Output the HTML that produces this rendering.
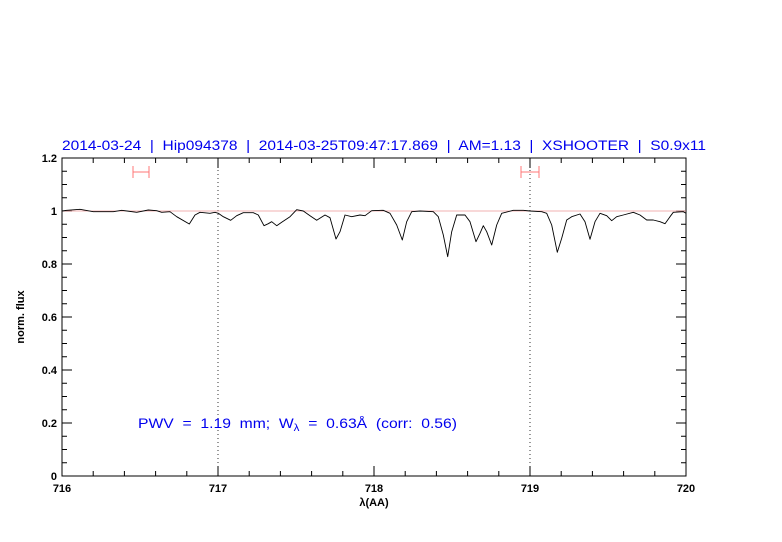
<!DOCTYPE html>
<html><head><meta charset="utf-8"><style>html,body{margin:0;padding:0;background:#fff}svg{display:block}</style></head><body>
<svg width="782" height="542" xmlns="http://www.w3.org/2000/svg" font-family="Liberation Sans, sans-serif">
<rect width="782" height="542" fill="#fff"/>
<text x="62" y="150" fill="#0000ee" font-size="13.5" textLength="644" lengthAdjust="spacingAndGlyphs" xml:space="preserve">2014-03-24  |  Hip094378  |  2014-03-25T09:47:17.869  |  AM=1.13  |  XSHOOTER  |  S0.9x11</text>
<g stroke="#000" stroke-width="1" fill="none">
<rect x="62" y="158" width="624" height="318"/>
<path d="M93.2 476v-5M124.4 476v-5M155.6 476v-5M186.8 476v-5M249.2 476v-5M280.4 476v-5M311.6 476v-5M342.8 476v-5M405.2 476v-5M436.4 476v-5M467.6 476v-5M498.8 476v-5M561.2 476v-5M592.4 476v-5M623.6 476v-5M654.8 476v-5
M218 476v-10M374 476v-10M530 476v-10
M93.2 158v5M124.4 158v5M155.6 158v5M186.8 158v5M249.2 158v5M280.4 158v5M311.6 158v5M342.8 158v5M405.2 158v5M436.4 158v5M467.6 158v5M498.8 158v5M561.2 158v5M592.4 158v5M623.6 158v5M654.8 158v5
M218 158v10M374 158v10M530 158v10"/>
<path d="M62 462.75h5M62 449.5h5M62 436.25h5M62 409.75h5M62 396.5h5M62 383.25h5M62 356.75h5M62 343.5h5M62 330.25h5M62 303.75h5M62 290.5h5M62 277.25h5M62 250.75h5M62 237.5h5M62 224.25h5M62 197.75h5M62 184.5h5M62 171.25h5
M62 423h10M62 370h10M62 317h10M62 264h10M62 211h10
M686 462.75h-5M686 449.5h-5M686 436.25h-5M686 409.75h-5M686 396.5h-5M686 383.25h-5M686 356.75h-5M686 343.5h-5M686 330.25h-5M686 303.75h-5M686 290.5h-5M686 277.25h-5M686 250.75h-5M686 237.5h-5M686 224.25h-5M686 197.75h-5M686 184.5h-5M686 171.25h-5
M686 423h-10M686 370h-10M686 317h-10M686 264h-10M686 211h-10"/>
</g>
<g stroke="#000" stroke-width="0.8" stroke-dasharray="1,3"><path d="M218 158v318M530 158v318"/></g>
<path d="M62 211H686" stroke="#e99" stroke-width="0.8"/>
<g stroke="#f77" stroke-width="1"><path d="M133 172h16M133 166v12M149 166v12M521 172h18M521 166v12M539 166v12"/></g>
<polyline fill="none" stroke="#000" stroke-width="0.9" stroke-linejoin="round" points="62,211 66.7,210.3 80,209.3 93.3,211.7 103.3,211.7 113.3,211.7 121.7,210.3 136.7,212.3 148.3,210 156.7,210.7 161.7,212.3 170,211.7 176.7,216.7 189.3,224 195,215 200,212.3 210,213.3 215,212.3 218.3,213.3 223.3,216.7 230.7,220.3 236.7,215.7 243.3,212.7 253.3,212.7 258.3,215 264,225.7 268.3,223.7 271.7,221.7 276.7,225.7 281.7,222.3 290,216.7 296.7,209.7 303.3,211 310,215.7 316.7,220.3 325,215 330,217.7 336,239 340,231.7 345,215 351.7,216.7 360,215 365,215.7 371.7,210.7 383.3,210.3 390,213.3 396.7,225 402.3,240 406.7,221.7 411.7,211.7 420,211 433.3,211.7 438.3,216.7 443.3,235 447.7,256.7 451.7,231.7 456.7,215 465,215 470,221.7 476,241.7 480,233.3 483.3,225.7 486.7,231.7 491.7,245 496.7,225 501.7,213.3 513.3,210.3 523.3,210.3 530,211 541.7,211.7 546.7,213.3 551.7,225 557.3,252.3 561.7,238.3 566.7,220 571.7,216.7 580,214 585,221.7 590,239.3 595,221.7 600,213.3 606.7,215.7 611.7,220.7 616.7,216.7 623.3,215 633.3,212.3 640,215 646.7,220 653.3,220 660,221.7 665,223.7 670,216.7 673.3,212.3 683.3,211.7 686,213.3"/>
<g font-size="11" font-weight="bold" fill="#000" text-anchor="end">
<text x="57" y="480">0</text><text x="57" y="427">0.2</text><text x="57" y="374">0.4</text><text x="57" y="321">0.6</text><text x="57" y="268">0.8</text><text x="57" y="215">1</text><text x="57" y="162">1.2</text>
</g>
<g font-size="11" font-weight="bold" fill="#000" text-anchor="middle">
<text x="62" y="492">716</text><text x="218" y="492">717</text><text x="374" y="492">718</text><text x="530" y="492">719</text><text x="686" y="492">720</text>
<text x="374" y="506">λ(AA)</text>
</g>
<text x="24" y="317" font-size="11" font-weight="bold" text-anchor="middle" transform="rotate(-90 24 317)">norm. flux</text>
<text x="138" y="428" fill="#0000ee" font-size="13.5" textLength="319" lengthAdjust="spacingAndGlyphs" xml:space="preserve">PWV  =  1.19  mm;  W<tspan font-size="10" dy="3">λ</tspan><tspan dy="-3">  =  0.63Å  (corr:  0.56)</tspan></text>
</svg>
</body></html>
